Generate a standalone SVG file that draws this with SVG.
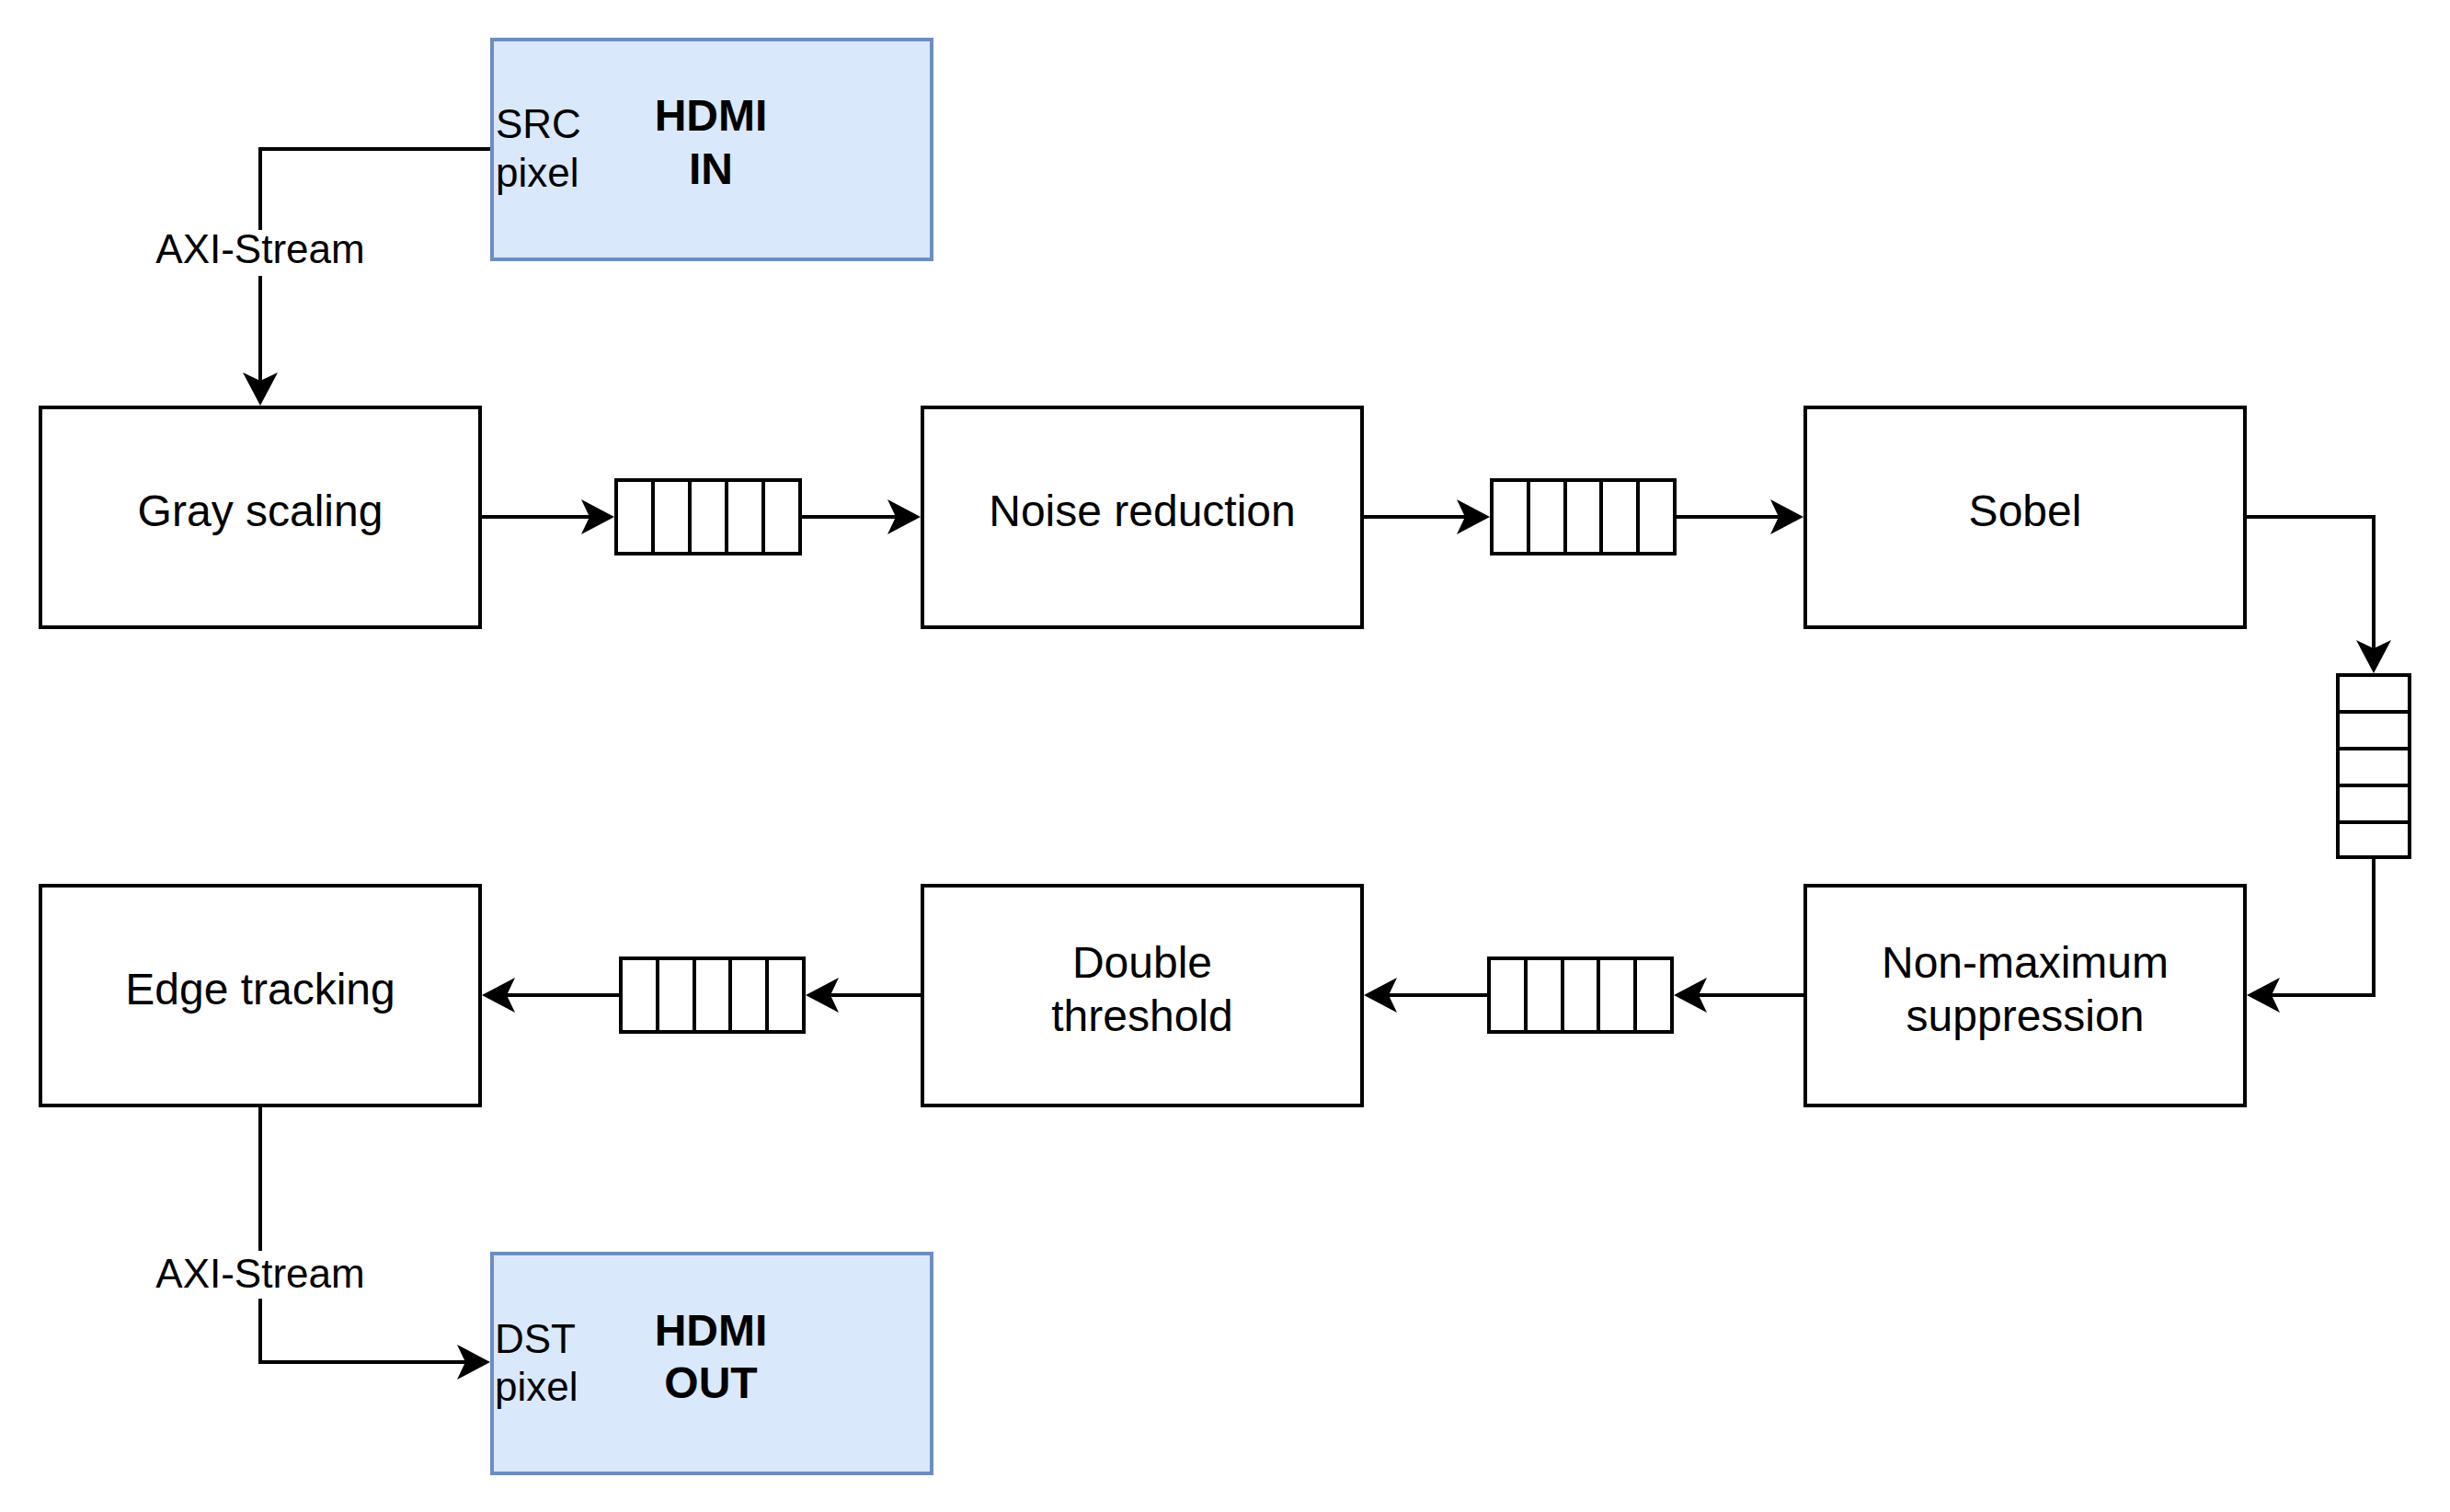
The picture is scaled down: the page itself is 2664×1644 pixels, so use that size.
<svg xmlns="http://www.w3.org/2000/svg" width="2664" height="1644" viewBox="0 0 2664 1644">
<style>
.box{fill:#ffffff;stroke:#000000;stroke-width:4}
.hdmi{fill:#dae8fc;stroke:#6c8ebf;stroke-width:4}
.q{fill:#ffffff;stroke:#000000;stroke-width:4}
.div{stroke:#000000;stroke-width:4;fill:none}
.lbl{font-family:"Liberation Sans",Arial,sans-serif;font-size:48px;fill:#000000;text-anchor:middle}
.bold{font-family:"Liberation Sans",Arial,sans-serif;font-size:48px;font-weight:bold;fill:#000000;text-anchor:middle}
.port{font-family:"Liberation Sans",Arial,sans-serif;font-size:44px;fill:#000000}
.elbl{font-family:"Liberation Sans",Arial,sans-serif;font-size:44px;fill:#000000;text-anchor:middle}
.edge{fill:none;stroke:#000000;stroke-width:4;marker-end:url(#arr)}
</style>
<defs>
<marker id="arr" markerUnits="userSpaceOnUse" markerWidth="40" markerHeight="40" viewBox="-10 -20 40 40" refX="0" refY="0" orient="auto" overflow="visible">
<path d="M27,0 L-9,-19 L0,0 L-9,19 Z" fill="#000000" stroke="none"/>
</marker>
</defs>
<rect width="2664" height="1644" fill="#ffffff"/>

<g id="connectors">
<path class="edge" d="M535,162 H283 V414"/>
<path class="edge" d="M522,562 H641"/>
<path class="edge" d="M870,562 H974"/>
<path class="edge" d="M1481,562 H1593"/>
<path class="edge" d="M1821,562 H1934"/>
<path class="edge" d="M2441,562 H2581 V705"/>
<path class="edge" d="M2581,932 V1082 H2470"/>
<path class="edge" d="M1963,1082 H1847"/>
<path class="edge" d="M1619,1082 H1510"/>
<path class="edge" d="M1003,1082 H903"/>
<path class="edge" d="M675,1082 H551"/>
<path class="edge" d="M283,1202 V1481 H506"/>
<rect x="170" y="250" width="226" height="50" fill="#ffffff"/>
<text class="elbl" x="283" y="286">AXI-Stream</text>
<rect x="170" y="1360" width="226" height="52" fill="#ffffff"/>
<text class="elbl" x="283" y="1400">AXI-Stream</text>
</g>

<g id="hdmi-in">
<rect class="hdmi" x="535" y="43" width="478" height="239"/>
<text class="bold" x="773" y="142">HDMI</text>
<text class="bold" x="773" y="200">IN</text>
<text class="port" x="539" y="150">SRC</text>
<text class="port" x="539" y="203">pixel</text>
</g>

<g id="gray-scaling">
<rect class="box" x="44" y="443" width="478" height="239"/>
<text class="lbl" x="283" y="572">Gray scaling</text>
</g>

<g id="fifo1">
<rect class="q" x="670" y="522" width="200" height="80"/>
<path class="div" d="M710,522V602M750,522V602M790,522V602M830,522V602"/>
</g>

<g id="noise-reduction">
<rect class="box" x="1003" y="443" width="478" height="239"/>
<text class="lbl" x="1242" y="572">Noise reduction</text>
</g>

<g id="fifo2">
<rect class="q" x="1622" y="522" width="199" height="80"/>
<path class="div" d="M1662,522V602M1702,522V602M1741,522V602M1781,522V602"/>
</g>

<g id="sobel">
<rect class="box" x="1963" y="443" width="478" height="239"/>
<text class="lbl" x="2202" y="572">Sobel</text>
</g>

<g id="fifo3">
<rect class="q" x="2542" y="734" width="78" height="198"/>
<path class="div" d="M2542,774H2620M2542,814H2620M2542,854H2620M2542,894H2620"/>
</g>

<g id="non-maximum-suppression">
<rect class="box" x="1963" y="963" width="478" height="239"/>
<text class="lbl" x="2202" y="1063">Non-maximum</text>
<text class="lbl" x="2202" y="1121">suppression</text>
</g>

<g id="fifo4">
<rect class="q" x="1619" y="1042" width="199" height="80"/>
<path class="div" d="M1659,1042V1122M1699,1042V1122M1738,1042V1122M1778,1042V1122"/>
</g>

<g id="double-threshold">
<rect class="box" x="1003" y="963" width="478" height="239"/>
<text class="lbl" x="1242" y="1063">Double</text>
<text class="lbl" x="1242" y="1121">threshold</text>
</g>

<g id="fifo5">
<rect class="q" x="675" y="1042" width="199" height="80"/>
<path class="div" d="M715,1042V1122M755,1042V1122M794,1042V1122M834,1042V1122"/>
</g>

<g id="edge-tracking">
<rect class="box" x="44" y="963" width="478" height="239"/>
<text class="lbl" x="283" y="1092">Edge tracking</text>
</g>

<g id="hdmi-out">
<rect class="hdmi" x="535" y="1363" width="478" height="239"/>
<text class="bold" x="773" y="1463">HDMI</text>
<text class="bold" x="773" y="1520">OUT</text>
<text class="port" x="538" y="1471">DST</text>
<text class="port" x="538" y="1523">pixel</text>
</g>
</svg>
